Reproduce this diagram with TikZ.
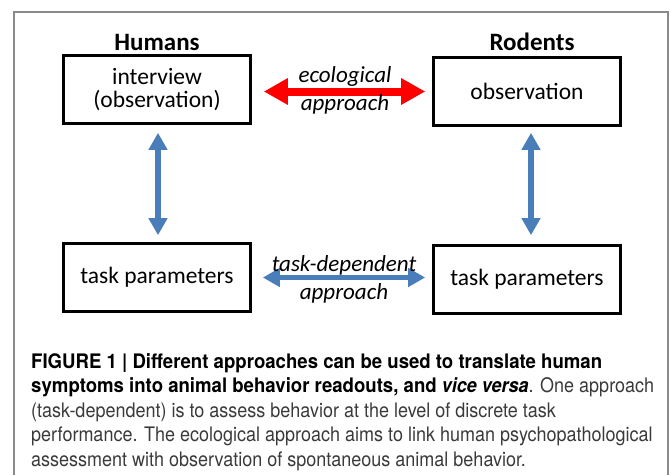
\documentclass[tikz,border=0pt]{standalone}
\usepackage{fontspec}
\setmainfont{Carlito}
\newfontfamily\capfont[FakeStretch=0.9, BoldFeatures={FakeStretch=0.93}]{TeX Gyre Heros}
\usetikzlibrary{arrows.meta}
\definecolor{offblue}{HTML}{4A7EBB}
\definecolor{capgray}{HTML}{3A3A3A}
\definecolor{framegray}{HTML}{8A8A8A}
\tikzset{
  box/.style={draw=black, line width=2.6pt, minimum width=187pt, minimum height=68pt,
    inner sep=0pt, align=center, font=\fontsize{23.5}{23}\selectfont},
  head/.style={font=\fontsize{25}{25}\selectfont\bfseries},
  lbl/.style={font=\fontsize{23}{23}\selectfont\itshape, inner sep=0pt},
  redarrow/.style={draw=red, line width=8pt, {Triangle[length=24pt,width=25pt]}-{Triangle[length=24pt,width=25pt]}},
  bluearrow/.style={draw=offblue, line width=5.5pt, {Triangle[length=17pt,width=18pt]}-{Triangle[length=17pt,width=18pt]}},
  capline/.style={anchor=base west, inner sep=0pt, font=\fontsize{20}{20}\capfont, text=capgray},
}
\begin{document}
\begin{tikzpicture}[x=1pt, y=-1pt]
\useasboundingbox (0,0) rectangle (671,475);
\draw[framegray, line width=1.3pt] (14,475) -- (14,12) -- (668,12) -- (668,475);

\node[head] (hum) at (157,42) {Humans};
\node[head] (rod) at (532,42) {Rodents};

\node[box] (tl) at (157,89.5) {interview\\(observation)};
\node[box] (tr) at (527,91.5) {observation};
\node[box] (bl) at (157,277.5) {task parameters};
\node[box] (br) at (527,279.5) {task parameters};

\draw[redarrow, shorten <=12pt, shorten >=7pt] (tl.east |- tr.west) -- (tr.west);
\draw[bluearrow, shorten <=11pt, shorten >=7pt] ([yshift=2pt]bl.east |- br.west) -- ([yshift=2pt]br.west);
\draw[bluearrow, shorten <=8pt, shorten >=7pt] ([xshift=1pt]tl.south) -- ([xshift=1pt]bl.north);
\draw[bluearrow, shorten <=6pt, shorten >=9pt] ([xshift=4pt]tr.south) -- ([xshift=4pt]br.north);

\node[lbl] (eco) at (345,76) {ecological};
\node[lbl] (app1) at (345,104) {approach};
\node[lbl] (tdep) at (344,265) {task-dependent};
\node[lbl] (app2) at (344,293) {approach};

\node[capline, text=black] (c1) at (31,368) {\bfseries FIGURE 1 | Different approaches can be used to translate human};
\node[capline, text=black] (c2) at (31,392.5) {\bfseries symptoms into animal behavior readouts, and \textit{vice versa}\mdseries\color{capgray}. One approach};
\node[capline] (c3) at (31,417) {(task-dependent) is to assess behavior at the level of discrete task};
\node[capline] (c4) at (31,441.5) {performance. The ecological approach aims to link human psychopathological};
\node[capline] (c5) at (31,466) {assessment with observation of spontaneous animal behavior.};
\end{tikzpicture}
\end{document}
